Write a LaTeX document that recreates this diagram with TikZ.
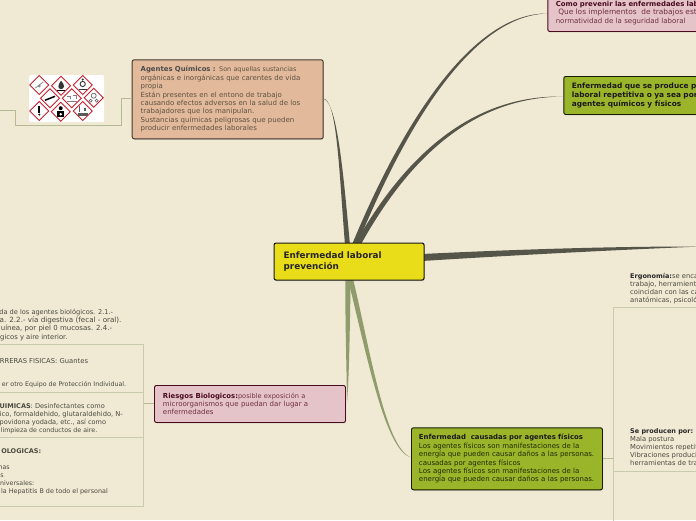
\documentclass[tikz,border=0pt]{standalone}
\usepackage{fontspec}
\setmainfont{DejaVu Sans}
\usetikzlibrary{calc,shadows}
\definecolor{bgc}{HTML}{F0E9D3}
\definecolor{darkc}{HTML}{55554A}
\definecolor{olivec}{HTML}{8F9C6C}
\definecolor{framec}{HTML}{C9CCAC}
\definecolor{framed}{HTML}{B4BA94}
\definecolor{brownf}{HTML}{E2BA9B}
\definecolor{brownt}{HTML}{5F5040}
\definecolor{pinkf}{HTML}{E5C4C9}
\definecolor{pinkt}{HTML}{6F2F42}
\definecolor{pinkb}{HTML}{4A0A20}
\definecolor{greenf}{HTML}{9BB52B}
\definecolor{greent}{HTML}{1E2A05}
\definecolor{yellowf}{HTML}{E9DD1A}
\definecolor{plaint}{HTML}{4A4A40}
\definecolor{ghsred}{HTML}{C8202F}
\newcommand{\bb}[1]{{\fontsize{6.9}{8.4}\selectfont\bfseries #1}}
\newcommand{\bs}[1]{{\fontsize{6.5}{8}\selectfont\bfseries #1}}
\newcommand{\cutf}[1]{\fontsize{#1}{8}\selectfont}
\tikzset{
 smallf/.style={font=\fontsize{7}{8.4}\selectfont},
 box/.style={smallf,anchor=north west,align=left,rounded corners=2pt,line width=.95pt,
   drop shadow={shadow xshift=.6pt,shadow yshift=-1pt,opacity=.3},inner sep=0pt},
 brownbox/.style={box,draw=brownt!70!black,fill=brownf,text=brownt},
 pinkbox/.style={box,draw=pinkb,fill=pinkf,text=pinkt},
 greenbox/.style={box,draw=greent!70!black,fill=greenf,text=greent},
 mainbox/.style={box,font=\fontsize{8.85}{11}\selectfont\bfseries,draw=black!90,line width=1.1pt,fill=yellowf,text=black!85},
 cut/.style={font=\cutf{#1},text=plaint,anchor=base east,inner sep=0pt},
 cut/.default=6.35,
 free/.style={font=\fontsize{6.78}{8}\selectfont,text=plaint,anchor=north west,align=left,inner sep=0pt},
 frameline/.style={draw=framec,line width=1pt},
 link/.style={draw=framed,line width=.8pt},
 ghs/.style={draw=ghsred,fill=white,line width=.9pt,line join=miter},
}
\newcommand{\ghsmark}[3]{\begin{scope}[shift={(#1,#2)}]
 \draw[ghs] (-9.5,0)--(0,-9.5)--(9.5,0)--(0,9.5)--cycle;
 #3
 \end{scope}}
% colour, start, control 1, control 2, end, normal at start, normal at end, width
\newcommand{\tapr}[8]{%
 \pgfmathsetmacro{\wa}{#8/2}\pgfmathsetmacro{\wb}{#8*.4}\pgfmathsetmacro{\wc}{#8*.25}%
 \fill[#1] ($#2+\wa*#6$) .. controls ($#3+\wb*#6$) and ($#4+\wc*#7$) .. ($#5+.55*#7$)
   .. controls ($#4-\wc*#7$) and ($#3-\wb*#6$) .. ($#2-\wa*#6$) -- cycle;}
\begin{document}
\begin{tikzpicture}[x=1pt,y=-1pt]
\useasboundingbox (0,0) rectangle (696,520);
\fill[bgc] (0,0) rectangle (696,520);
\clip (0,0) rectangle (696,520);

% free connector ends
\coordinate (leftend) at (0,110);
\coordinate (rightend) at (700,246);
\coordinate (errgt) at (700,307);
\coordinate (sprgt) at (700,471);
\coordinate (trunkbot) at (613.5,524);
\coordinate (trunktop) at (613.5,307);
\coordinate (trunkmid) at (613.5,458);
\coordinate (framel1) at (-2,344.5);
\coordinate (framer1) at (143.5,344.5);
\coordinate (framel2) at (-2,392);
\coordinate (framer2) at (143.5,392);
\coordinate (framel3) at (-2,437);
\coordinate (framer3) at (143.5,437);
\coordinate (framel4) at (-2,506);
\coordinate (framer4) at (143.5,506);
\coordinate (framemid) at (143.5,403);

% anchors on the central box and ends on the others
\coordinate (cUa) at (347.5,245);
\coordinate (cUb) at (354.5,245);
\coordinate (cUc) at (357.5,245);
\coordinate (cR) at (422,257.5);
\coordinate (cDa) at (348,277);
\coordinate (cDb) at (350,277);
\coordinate (eAg) at (323,98);
\coordinate (ePr) at (548,13);
\coordinate (eRe) at (563,96);
\coordinate (eRi) at (346.5,403);
\coordinate (eFi) at (411,458);

% tapered connectors
\tapr{darkc}{(cUa)}{(341,170)}{(337,100)}{(eAg)}{(1,0)}{(0,1)}{5}
\tapr{darkc}{(cUb)}{(412,105)}{(480,13)}{(ePr)}{(.9,.4)}{(0,1)}{5}
\tapr{darkc}{(cUc)}{(405,160)}{(470,96)}{(eRe)}{(.75,.65)}{(0,1)}{5.5}
\tapr{darkc}{(cR)}{(520,252)}{(620,248)}{(rightend)}{(0,1)}{(0,1)}{7}
\tapr{olivec}{(cDa)}{(347.5,330)}{(348,370)}{(eRi)}{(1,0)}{(1,0)}{5.5}
\tapr{olivec}{(cDb)}{(368,350)}{(385,450)}{(eFi)}{(1,-.2)}{(.3,-1)}{5}

% boxes
\node[mainbox,minimum width=150pt,minimum height=37pt,text width=131pt] (central) at (273.5,242.5)
  {Enfermedad laboral\\prevención};
\node[brownbox,minimum width=191pt,minimum height=79pt,text width=174pt] (agentes) at (131.7,59.3)
  {\textcolor{black!70}{\bb{Agentes Químicos :}} {\fontsize{6.4}{8.4}\selectfont Son aquellas sustancias}\\orgánicas e inorgánicas que carentes de vida\\propia\\Están presentes en el entono de trabajo\\causando efectos adversos en la salud de los\\trabajadores que los manipulan.\\Sustancias químicas peligrosas que pueden\\producir enfermedades laborales};
\node[pinkbox,minimum width=191pt,minimum height=37pt,text width=174pt] (riesgos) at (154,385)
  {\textcolor{pinkb}{\bb{Riesgos Biologicos:}}{\fontsize{6.6}{8.4}\selectfont posible exposición a}\\microorganismos que puedan dar lugar a\\enfermedades};
\node[greenbox,minimum width=191pt,minimum height=62pt,text width=176pt,xshift=0pt] (fisicos) at (411,427.3)
  {\textcolor{black!90}{\bb{Enfermedad\ \ causadas por agentes físicos}}\\Los agentes físicos son manifestaciones de la\\\mbox{energía que pueden causar daños a las personas.}\\causadas por agentes físicos\\Los agentes físicos son manifestaciones de la\\\mbox{energía que pueden causar daños a las personas.}};
\node[pinkbox,minimum width=220pt,minimum height=37pt,text width=204pt] (prevenir) at (547.3,-6)
  {\textcolor{pinkb}{\bb{Como prevenir las enfermedades lab}}\\\hspace*{2.5pt}{\fontsize{7.4}{8.4}\selectfont Que los implementos\ \ de trabajos estén}\\normatividad de la seguridad laboral};
\node[greenbox,font=\fontsize{7.4}{8.9}\selectfont\bfseries,text=black!90,minimum width=200pt,minimum height=38pt,text width=184pt] (repetitiva) at (563.3,76)
  {Enfermedad que se produce p\\laboral repetitiva o ya sea por\\agentes químicos y físicos};

% hazard picture
\node[fill=white,rounded corners=2pt,minimum width=75pt,minimum height=47pt,inner sep=0pt,anchor=north west] (picto) at (29,75) {};
\ghsmark{39.3}{85}{\draw[black!45,line width=.8pt] (-4,3)--(4,-3);\fill[black!45] (0,1) circle (1.6);}
\ghsmark{61}{85.7}{\fill[black] (-4,4) rectangle (4,5.2);\fill[black!80] (0,-5) .. controls (4,-1) and (4,3) .. (0,3.5) .. controls (-4,3) and (-3,-1) .. (0,-5);}
\ghsmark{82.7}{85}{\draw[black!80,line width=.9pt] (0,-1) circle (2.6);\fill[black!80] (-4,4) rectangle (4,5.2);\fill[black!80] (0,-5.5) circle (1.2);}
\ghsmark{50}{98.3}{\draw[black,line width=1.5pt] (-5,2)--(5,-2);}
\ghsmark{71.7}{98.3}{\draw[black!50,line width=.7pt] (-5,-2)--(-1,-2)--(-1,1) (1,-3)--(5,-3)--(5,1);\draw[black!50,line width=.7pt] (-5,3)--(5,3);}
\ghsmark{93.7}{97.7}{\draw[black!60,line width=.7pt] (0,-2) circle (2.5);\draw[black!60,line width=.7pt] (-3,3) circle (1.5) (3,3) circle (1.5);}
\ghsmark{39.3}{111}{\fill[black] (-.9,-5) rectangle (.9,1.5);\fill[black] (0,3.6) circle (1.1);}
\ghsmark{60.7}{111.7}{\fill[black] (0,-3.5) circle (2);\fill[black] (-3.5,-1) rectangle (3.5,5.5);\fill[white] (0,2.5) circle (1.4);}
\ghsmark{82.7}{111}{\draw[black!65,line width=.8pt] (-3,-5)--(-3,1);\fill[black!65] (-5,2) rectangle (5,4.5);\fill[black!65] (1,-3) rectangle (3,0);}

% tree connectors
\draw[link] (agentes.west |- 0,98.3) -- (121,98.3) -- (121,125) -- (15,125) -- (15,110) -- (leftend);
\draw[frameline] (framel1) -- (framer1) -- (framer4) -- (framel4);
\draw[frameline] (framel2) -- (framer2);
\draw[frameline] (framel3) -- (framer3);
\draw[link] (framemid) -- (riesgos.west |- framemid);
\draw[link] (fisicos.east |- trunkmid) -- (trunkmid);
\draw[frameline] (errgt) -- (trunktop) -- (trunkbot);
\draw[frameline] (trunkmid |- sprgt) -- (sprgt);

% free texts at the left edge
\node[cut=6.6] (l1) at (113.3,314) {da de los agentes biológicos. 2.1.-};
\node[cut=7.15] (l2) at (121.7,322.4) {a. 2.2.- vía digestiva (fecal - oral).};
\node[cut=7] (l3) at (112.3,330.8) {uínea, por piel 0 mucosas. 2.4.-};
\node[cut=6.8] (l4) at (67.7,339.6) {gicos y aire interior.};
\node[cut=6.8] (l5) at (88.3,363) {RRERAS FISICAS: Guantes};
\node[cut=6.3] (l6) at (126.3,386.6) {er otro Equipo de Protección Individual.};
\node[cut=6.6] (l7) at (105,408) {\bs{UIMICAS}: Desinfectantes como};
\node[cut=6.7] (l8) at (123,416) {ico, formaldehido, glutaraldehido, N-};
\node[cut=6.55] (l9) at (106.3,424) {povidona yodada, etc., así como};
\node[cut=6.3] (l10) at (97.5,432) {limpieza de conductos de aire.};
\node[cut=6.3] (l11) at (41.3,453) {\bs{OLOGICAS:}};
\node[cut] (l12) at (10,469) {nas};
\node[cut] (l13) at (4,477.3) {ls};
\node[cut=6.3] (l14) at (34.5,485) {niversales:};
\node[cut=6.4] (l15) at (108,493) {la Hepatitis B de todo el personal};

% free texts at the right edge
\node[free] (ergo) at (630,272.7) {\textcolor{black!85}{\bs{Ergonomía:}}se enca\\trabajo, herramienta\\coincidan con las car\\anatómicas, psicológ};
\node[free] (produce) at (630,428.7) {\textcolor{black!85}{\bs{Se producen por:}}\\Mala postura\\Movimientos repetiti\\Vibraciones producid\\herramientas de tra};
\end{tikzpicture}
\end{document}
